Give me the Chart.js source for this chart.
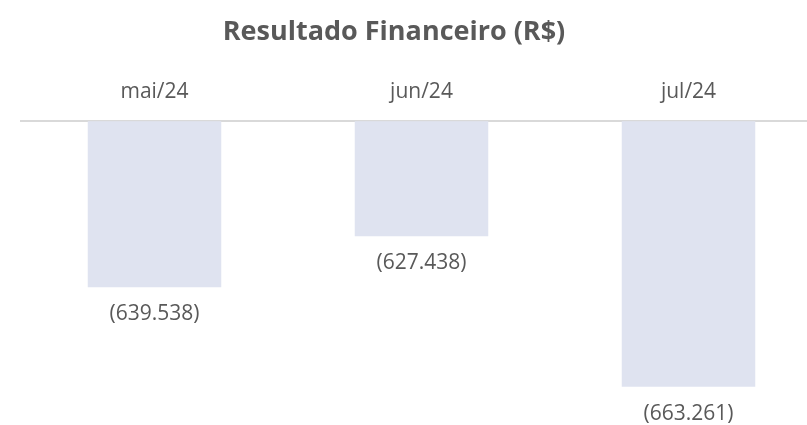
<!DOCTYPE html>
<html>
<head>
<meta charset="utf-8">
<script src="https://cdn.jsdelivr.net/npm/chart.js@4.4.1/dist/chart.umd.min.js"></script>
<style>
    html, body { margin: 0; padding: 0; background: #ffffff; overflow: hidden; }
    #wrap { position: relative; width: 830px; height: 425px; }
</style>
</head>
<body>
<div id="wrap"><canvas id="resultadoChart" width="830" height="425"></canvas></div>
<script>
var meses = ["mai/24", "jun/24", "jul/24"];
var resultado = [-639538, -627438, -663261];
var tituloTexto = "Resultado Financeiro (R$)";
var eixoMax = -600000;
var eixoMin = -670000;

var corTexto = "#595959";
var fonte = "'Open Sans', 'DejaVu Sans', sans-serif";

function formatarValor(v) {
    var txt = Math.abs(v).toString().replace(/\B(?=(\d{3})+(?!\d))/g, ".");
    return v < 0 ? "(" + txt + ")" : txt;
}

// desenha o titulo e os rotulos abaixo das barras
var rotulosPlugin = {
    id: "rotulos",
    afterDatasetsDraw: function (chart) {
        var ctx = chart.ctx;
        var meta = chart.getDatasetMeta(0);
        ctx.save();
        ctx.fillStyle = corTexto;
        ctx.font = "21px " + fonte;
        ctx.textAlign = "center";
        ctx.textBaseline = "middle";
        meta.data.forEach(function (bar, i) {
            ctx.fillText(formatarValor(chart.data.datasets[0].data[i]), bar.x, bar.y + 27);
        });
        ctx.font = "bold 27px " + fonte;
        ctx.fillText(tituloTexto, 394, 32);
        ctx.restore();
    }
};

var ctx = document.getElementById("resultadoChart").getContext("2d");
var grafico = new Chart(ctx, {
    type: "bar",
    data: {
        labels: meses,
        datasets: [
            {
                label: "Resultado",
                data: resultado,
                backgroundColor: "#dfe3f0",
                borderWidth: 0,
                barPercentage: 0.5,
                categoryPercentage: 1.0,
            },
        ],
    },
    options: {
        responsive: false,
        animation: false,
        layout: {
            padding: { top: 62, left: 21, right: 8, bottom: 10 },
        },
        plugins: {
            legend: { display: false },
            tooltip: { enabled: false },
            title: { display: false },
        },
        scales: {
            x: {
                position: "top",
                grid: { display: false, drawTicks: false },
                border: { display: true, color: "#d9d9d9", width: 2 },
                ticks: {
                    color: corTexto,
                    padding: 17,
                    font: { family: fonte, size: 21 },
                },
            },
            y: {
                display: false,
                min: eixoMin,
                max: eixoMax,
            },
        },
    },
    plugins: [rotulosPlugin],
});
</script>
</body>
</html>
